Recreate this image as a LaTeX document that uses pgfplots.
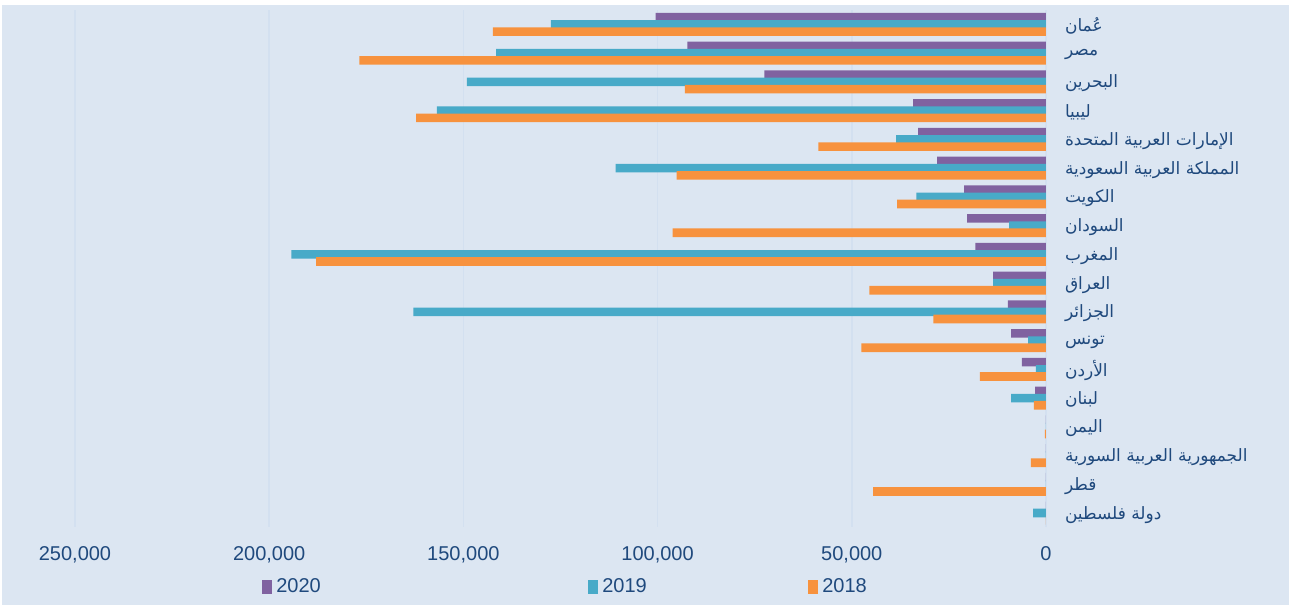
\documentclass[border=0pt]{standalone}
\usepackage{pgfplots}
\pgfplotsset{compat=1.18}
\usepackage{fontspec}
\setmainfont{Liberation Sans}
\newfontfamily\arabicfont[Script=Arabic]{DejaVu Sans}
\TeXXeTstate=1
\definecolor{bgcol}{RGB}{220,230,242}
\definecolor{gridcol}{RGB}{211,224,240}
\definecolor{txt}{RGB}{31,73,125}
\definecolor{c20}{RGB}{128,98,160}
\definecolor{c19}{RGB}{72,170,200}
\definecolor{c18}{RGB}{247,146,62}
\begin{document}
\begin{tikzpicture}
\fill[white] (-37.5pt,-38.8pt) rectangle (608pt,263.7pt);
\fill[bgcol] (-36.5pt,-38.8pt) rectangle (607pt,261.2pt);
\useasboundingbox (-37.5pt,-38.8pt) rectangle (608pt,263.7pt);
\begin{axis}[
  at={(0,0)}, anchor=south west,
  scale only axis, width=485.5pt, height=258.7pt,
  xbar, bar width=4.3pt,
  x dir=reverse, y dir=reverse,
  xmin=0, xmax=250000,
  ymin=-0.5, ymax=17.5,
  ytick={0,...,17},
  yticklabel pos=right,
  yticklabels={
    {\arabicfont\beginR عُمان\endR},
    {\arabicfont\beginR مصر\endR},
    {\arabicfont\beginR البحرين\endR},
    {\arabicfont\beginR ليبيا\endR},
    {\arabicfont\beginR الإمارات العربية المتحدة\endR},
    {\arabicfont\beginR المملكة العربية السعودية\endR},
    {\arabicfont\beginR الكويت\endR},
    {\arabicfont\beginR السودان\endR},
    {\arabicfont\beginR المغرب\endR},
    {\arabicfont\beginR العراق\endR},
    {\arabicfont\beginR الجزائر\endR},
    {\arabicfont\beginR تونس\endR},
    {\arabicfont\beginR الأردن\endR},
    {\arabicfont\beginR لبنان\endR},
    {\arabicfont\beginR اليمن\endR},
    {\arabicfont\beginR الجمهورية العربية السورية\endR},
    {\arabicfont\beginR قطر\endR},
    {\arabicfont\beginR دولة فلسطين\endR}},
  yticklabel style={anchor=west, xshift=6pt, yshift=-0.8pt, font=\fontsize{8.5}{10}\selectfont, text=txt},
  xtick={0,50000,100000,150000,200000,250000},
  xticklabels={0,{50,000},{100,000},{150,000},{200,000},{250,000}},
  scaled ticks=false,
  xticklabel style={font=\fontsize{10}{12}\selectfont, text=txt, yshift=-6.2pt},
  xmajorgrids, major grid style={gridcol, line width=0.8pt},
  axis line style={draw=none},
  major tick length=0pt,
  legend style={at={(0.1925,-0.115)}, anchor=west, draw=none, fill=none, inner sep=0pt,
    legend columns=3, font=\fontsize{10}{12}\selectfont, text=txt},
  legend cell align=left,
  area legend,
  legend image code/.code={\fill[#1] (0pt,-3.7pt) rectangle (5pt,3.7pt);},
]
\addplot[fill=c20, draw=none, bar shift=3.6pt] coordinates {
(100500,0) (92300,1) (72500,2) (34200,3) (32900,4) (28000,5) (21100,6) (20300,7) (18200,8) (13600,9) (9800,10) (9000,11) (6200,12) (2800,13) (0,14) (0,15) (0,16) (0,17)};
\addplot[fill=c19, draw=none, bar shift=0pt] coordinates {
(127500,0) (141600,1) (149100,2) (156800,3) (38600,4) (110800,5) (33400,6) (9500,7) (194300,8) (13600,9) (162900,10) (4600,11) (2600,12) (9000,13) (0,14) (0,15) (0,16) (3300,17)};
\addplot[fill=c18, draw=none, bar shift=-3.6pt] coordinates {
(142400,0) (176800,1) (93000,2) (162200,3) (58600,4) (95100,5) (38300,6) (96100,7) (187900,8) (45500,9) (29000,10) (47500,11) (17000,12) (3100,13) (300,14) (3900,15) (44500,16) (0,17)};
\addlegendentry{\makebox[154pt][l]{2020}}
\addlegendentry{\makebox[101pt][l]{2019}}
\addlegendentry{2018}
\end{axis}
\draw[gridcol, line width=0.8pt] (485.8pt,0pt) -- (485.8pt,258.7pt);
\end{tikzpicture}
\end{document}
